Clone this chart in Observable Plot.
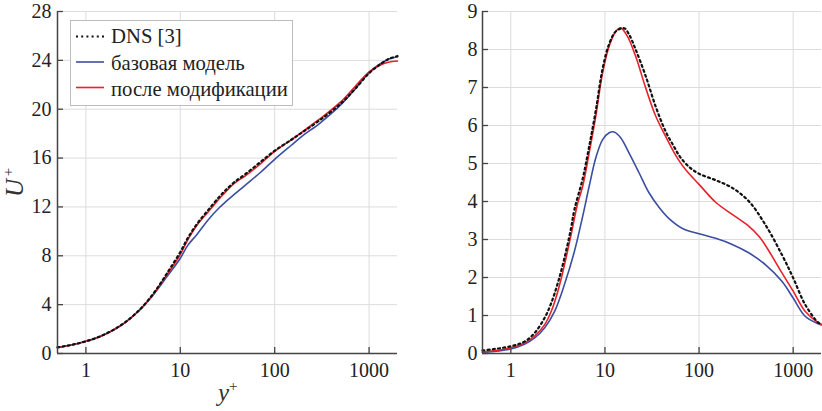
<!DOCTYPE html>
<html>
<head>
<meta charset="utf-8">
<script src="https://cdn.jsdelivr.net/npm/d3@7"></script>
<script src="https://cdn.jsdelivr.net/npm/@observablehq/plot@0.6"></script>
<style>
  html, body { margin: 0; padding: 0; background: #fff; }
  #wrap { display: flex; width: 822px; height: 411px; }
  #wrap svg, #wrap svg text, #wrap svg tspan { font-family: "Liberation Serif", "Times New Roman", serif !important; }
</style>
</head>
<body>
<div id="wrap"></div>
<script>
// ---------- shared ----------
const xTicks = [1, 10, 100, 1000];
const xDomain = [0.5, 2000];
const legendLabels = ["DNS [3]", "базовая модель", "после модификации"];
const colors = { dns: "#111111", base: "#3a4ea3", mod: "#e8212a" };

// ---------- left panel: U+ ----------
const uTicks = [0, 4, 8, 12, 16, 20, 24, 28];
const uYplus = [0.5, 0.7, 1, 1.4, 2, 2.5, 3, 3.5, 4, 5, 6, 7, 8, 10, 12, 15, 20, 26, 30, 37, 50, 70, 100, 150, 200, 300, 500, 700, 1000, 1300, 1600, 2000];
const uDNS  = [0.5, 0.7, 1.0, 1.39, 1.98, 2.46, 2.93, 3.4, 3.85, 4.75, 5.6, 6.4, 7.1, 8.3, 9.45, 10.6, 11.8, 12.85, 13.35, 14.0, 14.75, 15.65, 16.6, 17.5, 18.15, 19.1, 20.45, 21.6, 22.95, 23.65, 24.1, 24.35];
const uBase = [0.5, 0.7, 1.0, 1.38, 1.97, 2.45, 2.92, 3.38, 3.82, 4.65, 5.45, 6.15, 6.75, 7.8, 8.85, 9.75, 11.0, 11.95, 12.4, 13.0, 13.85, 14.8, 15.9, 17.05, 17.85, 18.85, 20.35, 21.6, 23.0, 23.7, 24.1, 24.3];
const uMod  = [0.5, 0.7, 1.0, 1.38, 1.97, 2.45, 2.92, 3.38, 3.82, 4.7, 5.55, 6.3, 6.95, 8.1, 9.3, 10.5, 11.65, 12.7, 13.2, 13.9, 14.6, 15.5, 16.55, 17.5, 18.2, 19.2, 20.6, 21.8, 23.05, 23.6, 23.85, 23.95];

// ---------- right panel: (u'u')+ ----------
const rTicks = [0, 1, 2, 3, 4, 5, 6, 7, 8, 9];
const rDNSx  = [0.5, 1, 1.41, 1.79, 2.29, 2.69, 3.16, 3.72, 4.37, 4.74, 5.8, 6.8, 8.0, 9.45, 11.1, 13.1, 16, 18, 21.2, 27.1, 34.6, 44, 54, 63, 80, 100, 150, 225, 337, 506, 759, 1000, 1340, 1853, 2000];
const rDNS   = [0.08, 0.19, 0.32, 0.54, 0.94, 1.33, 1.86, 2.52, 3.31, 3.79, 4.6, 5.45, 6.4, 7.5, 8.15, 8.48, 8.56, 8.4, 8.0, 7.3, 6.5, 5.85, 5.45, 5.17, 4.89, 4.73, 4.56, 4.36, 4.01, 3.39, 2.6, 1.99, 1.29, 0.81, 0.78];
const rBasex = [0.5, 1, 1.41, 1.79, 2.29, 2.92, 3.72, 4.74, 5.8, 6.8, 8.0, 9.45, 11.1, 12.5, 14.7, 18, 23.1, 29.4, 37.5, 48, 66.7, 100, 150, 225, 337, 506, 759, 1000, 1340, 1853, 2000];
const rBase  = [0.03, 0.12, 0.25, 0.41, 0.68, 1.11, 1.82, 2.69, 3.61, 4.4, 5.15, 5.63, 5.81, 5.83, 5.68, 5.28, 4.75, 4.23, 3.85, 3.55, 3.29, 3.15, 3.03, 2.87, 2.65, 2.34, 1.9, 1.46, 0.98, 0.78, 0.75];
const rModx  = [0.5, 1, 1.41, 1.79, 2.29, 2.69, 3.16, 3.72, 4.37, 5.14, 5.8, 6.8, 8.0, 9.45, 11.1, 13.1, 14.7, 17.3, 21.2, 27.1, 34.6, 44, 54, 63, 74, 100, 150, 225, 337, 430, 506, 760, 1000, 1340, 1850, 2000];
const rMod   = [0.04, 0.15, 0.28, 0.46, 0.76, 1.11, 1.64, 2.34, 3.13, 3.96, 4.4, 5.28, 6.25, 7.39, 8.09, 8.48, 8.57, 8.35, 7.82, 6.99, 6.25, 5.72, 5.3, 5.03, 4.8, 4.45, 3.98, 3.66, 3.35, 3.09, 2.85, 2.12, 1.64, 1.11, 0.81, 0.77];

const toRows = (xs, ys) => xs.map((x, i) => ({ x, y: ys[i] }));

const FONT = "Liberation Serif, Times New Roman, serif";
const gridStroke = "#dcdcdc";
const axisStroke = "#444";

function panel({ width, marginLeft, marginRight, yDomain, yTicks, series, tickPadY }) {
  return Plot.plot({
    width, height: 411,
    marginLeft, marginRight, marginTop: 11, marginBottom: 58,
    style: { fontFamily: FONT, fontSize: "20px", background: "#fff", color: "#222" },
    x: { type: "log", domain: xDomain, label: null },
    y: { domain: yDomain, label: null },
    marks: [
      Plot.gridX(xTicks, { stroke: gridStroke, strokeOpacity: 1, strokeWidth: 1 }),
      Plot.gridY(yTicks, { stroke: gridStroke, strokeOpacity: 1, strokeWidth: 1 }),
      Plot.axisX(xTicks, { tickSize: -6, tickPadding: 15, tickFormat: d => String(d), stroke: axisStroke, strokeWidth: 1.3, label: null, fill: "#222" }),
      Plot.axisY(yTicks, { tickSize: -6, tickPadding: tickPadY, tickFormat: d => String(d), stroke: axisStroke, strokeWidth: 1.3, label: null, fill: "#222" }),
      ...series,
      Plot.ruleY([yDomain[0]], { stroke: axisStroke, strokeWidth: 1.5 }),
      Plot.ruleX([xDomain[0]], { stroke: axisStroke, strokeWidth: 1.5 })
    ]
  });
}

function lines(dns, base, mod) {
  return [
    Plot.line(base, { x: "x", y: "y", stroke: colors.base, strokeWidth: 1.6, curve: "catmull-rom" }),
    Plot.line(mod, { x: "x", y: "y", stroke: colors.mod, strokeWidth: 1.6, curve: "catmull-rom" }),
    Plot.line(dns, { x: "x", y: "y", stroke: colors.dns, strokeWidth: 2.2, strokeDasharray: "2,3.2", curve: "catmull-rom" })
  ];
}

const left = panel({
  width: 411, marginLeft: 57, marginRight: 14,
  yDomain: [0, 28], yTicks: uTicks, tickPadY: 12,
  series: lines(toRows(uYplus, uDNS), toRows(uYplus, uBase), toRows(uYplus, uMod))
});
const right = panel({
  width: 411, marginLeft: 71, marginRight: 1,
  yDomain: [0, 9], yTicks: rTicks, tickPadY: 11,
  series: lines(toRows(rDNSx, rDNS), toRows(rBasex, rBase), toRows(rModx, rMod))
});

const wrap = document.getElementById("wrap");
wrap.appendChild(left);
wrap.appendChild(right);

// ---------- axis titles ----------
function yPlusLabel(svg, cx) {
  const s = d3.select(svg);
  s.append("text").attr("x", cx + 2).attr("y", 401).attr("text-anchor", "end")
    .attr("font-size", 25).attr("font-style", "italic").attr("fill", "#333").text("y");
  s.append("text").attr("x", cx + 2).attr("y", 391).attr("text-anchor", "start")
    .attr("font-size", 15).attr("fill", "#333").text("+");
}
yPlusLabel(left, 227);
yPlusLabel(right, 652);

{
  const s = d3.select(left);
  s.append("text").attr("transform", "translate(23,188) rotate(-90)")
    .attr("text-anchor", "middle").attr("font-size", 25).attr("font-style", "italic")
    .attr("fill", "#333").text("U");
  s.append("text").attr("transform", "translate(13,172) rotate(-90)")
    .attr("text-anchor", "middle").attr("font-size", 15)
    .attr("fill", "#333").text("+");
}
{
  const s = d3.select(right);
  const t = s.append("text")
    .attr("transform", "translate(457,190) rotate(-90)")
    .attr("text-anchor", "middle")
    .attr("font-size", 25).attr("fill", "#333");
  t.append("tspan").text("(");
  t.append("tspan").attr("font-style", "italic").style("text-decoration", "overline").text("u′u′");
  t.append("tspan").text(")");
  s.append("text").attr("transform", "translate(446,156) rotate(-90)")
    .attr("text-anchor", "middle").attr("font-size", 15)
    .attr("fill", "#333").text("+");
}

// ---------- legend (left panel) ----------
{
  const g = d3.select(left).append("g").attr("font-size", 20.7)
    .attr("text-anchor", "start");
  g.append("rect").attr("x", 70.5).attr("y", 20.5).attr("width", 222).attr("height", 85)
    .attr("fill", "#fff").attr("stroke", "#bdbdbd").attr("stroke-width", 1);
  const rows = [
    { label: legendLabels[0], color: colors.dns, dash: "2,3.2", w: 2.2, y: 36.5, ty: 36.5 },
    { label: legendLabels[1], color: colors.base, dash: null, w: 1.6, y: 62, ty: 63 },
    { label: legendLabels[2], color: colors.mod, dash: null, w: 1.6, y: 87.5, ty: 89 }
  ];
  for (const r of rows) {
    g.append("line").attr("x1", 76).attr("x2", 104).attr("y1", r.y).attr("y2", r.y)
      .attr("stroke", r.color).attr("stroke-width", r.w)
      .attr("stroke-dasharray", r.dash);
    g.append("text").attr("x", 111).attr("y", r.ty).attr("dy", "0.33em")
      .attr("text-anchor", "start")
      .attr("fill", "#222").text(r.label);
  }
}
</script>
</body>
</html>
